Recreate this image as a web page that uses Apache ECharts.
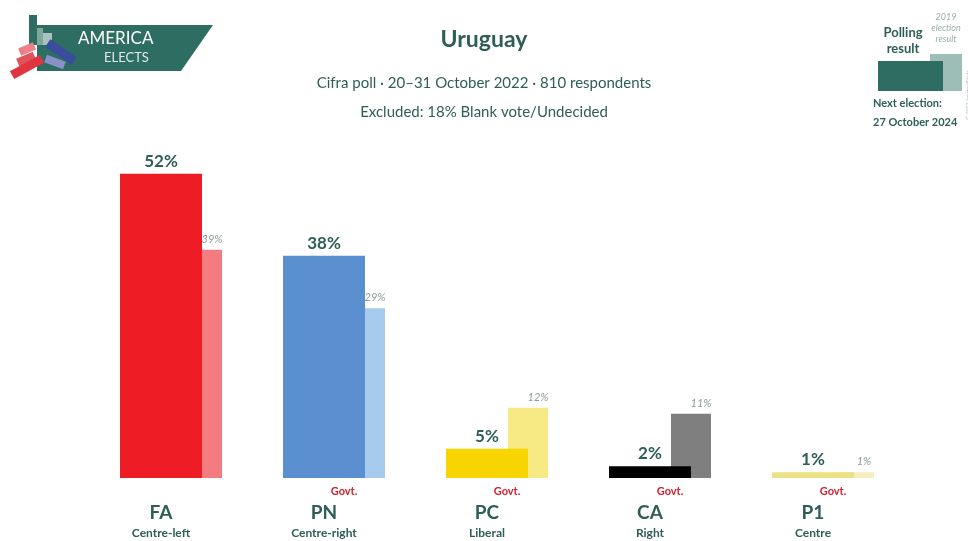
<!DOCTYPE html>
<html>
<head>
<meta charset="utf-8">
<script src="https://cdn.jsdelivr.net/npm/echarts@6/dist/echarts.min.js"></script>
<style>
  html, body { margin: 0; padding: 0; background: #fff; }
  #chart { width: 968px; height: 541px; }
</style>
</head>
<body>
<div id="chart"></div>
<script>
// data
const parties = ['FA', 'PN', 'PC', 'CA', 'P1'];
const leanings = ['Centre-left', 'Centre-right', 'Liberal', 'Right', 'Centre'];
const govt = [false, true, true, true, true];
const polling = [52, 38, 5, 2, 1];
const election2019 = [39, 29, 12, 11, 1];

// colours
const pollColors = ['#ee1c25', '#5a8fd0', '#f8d400', '#000000', '#ece184'];
const prevColors = ['#f27c7f', '#a6cbec', '#f7e983', '#7f7f7f', '#f6efbd'];

const teal = '#2e5e58';
const font = 'Lato';

// logo block, centred on (cx, cy)
let block = (cx, cy, w, h, rot, color) => ({
  type: 'rect', x: cx, y: cy, rotation: rot,
  shape: { x: -w / 2, y: -h / 2, width: w, height: h },
  style: { fill: color }
});

let chart = echarts.init(document.getElementById('chart'));

chart.setOption({
  backgroundColor: '#ffffff',
  animation: false,
  textStyle: { fontFamily: font },
  grid: { left: 89.5, right: 63.5, top: 127, bottom: 63, containLabel: false },
  xAxis: {
    type: 'category',
    data: parties,
    axisLine: { show: false },
    axisTick: { show: false },
    axisLabel: {
      interval: 0,
      margin: 3,
      formatter: (v, i) => {
        let g = govt[i] ? 'Govt.' : ' ';
        return '{g|' + g + '}\n{n|' + v + '}\n{s|' + leanings[i] + '}';
      },
      rich: {
        g: { color: '#d3202f', fontSize: 11, fontWeight: 'bold', lineHeight: 21, padding: [0, 0, 0, 20], fontFamily: font },
        n: { color: teal, fontSize: 19, fontWeight: 'bold', lineHeight: 21, padding: [0, 20, 0, 0], fontFamily: font },
        s: { color: teal, fontSize: 12, fontWeight: 'bold', lineHeight: 21, padding: [0, 20, 0, 0], fontFamily: font }
      }
    }
  },
  yAxis: {
    type: 'value',
    min: 0,
    max: 60,
    show: false,
    splitLine: { show: false }
  },
  series: [
    {
      name: 'Polling result',
      type: 'bar',
      z: 3,
      barWidth: 82,
      barGap: '-24.4%',
      data: polling.map((v, i) => ({ value: v, itemStyle: { color: pollColors[i] } })),
      label: {
        show: true,
        position: 'top',
        distance: 4,
        formatter: '{c}%',
        color: teal,
        fontSize: 17,
        fontWeight: 'bold',
        fontFamily: font
      }
    },
    {
      name: '2019 election result',
      type: 'bar',
      z: 2,
      barWidth: 40,
      barGap: '-24.4%',
      data: election2019.map((v, i) => ({ value: v, itemStyle: { color: prevColors[i] } })),
      label: {
        show: true,
        position: 'top',
        distance: 5,
        offset: [10, 0],
        formatter: '{c}%',
        color: '#8a9e9b',
        fontSize: 11,
        fontStyle: 'italic',
        fontFamily: font
      }
    }
  ],
  graphic: [
    // titles
    { type: 'text', left: 'center', top: 28, style: { text: 'Uruguay', fill: teal, font: 'bold 23px ' + font } },
    { type: 'text', left: 'center', top: 76, style: { text: 'Cifra poll · 20–31 October 2022 · 810 respondents', fill: teal, font: '15px ' + font } },
    { type: 'text', left: 'center', top: 105, style: { text: 'Excluded: 18% Blank vote/Undecided', fill: teal, font: '15px ' + font } },

    // logo
    { type: 'rect', shape: { x: 29, y: 15, width: 8, height: 30 }, style: { fill: '#2e6e62' } },
    { type: 'polygon', shape: { points: [[37, 25], [213, 25], [181, 71], [37, 71]] }, style: { fill: '#2e6e62' } },
    { type: 'rect', shape: { x: 37, y: 28, width: 6, height: 17 }, style: { fill: '#7fa79e' } },
    { type: 'rect', shape: { x: 43, y: 33, width: 9, height: 12 }, style: { fill: '#a9c4be' } },
    block(27, 49, 16, 8, 0.4, '#ec8088'),
    block(26, 59, 18, 8, 0.4, '#e0525c'),
    block(27, 67, 34, 9, 0.5, '#e03440'),
    block(61, 52, 32, 9, -0.6, '#3a4c9e'),
    block(55, 62, 20, 8, -0.35, '#8a90c8'),
    { type: 'text', x: 78, y: 30, style: { text: 'AMERICA', fill: '#ffffff', font: '17px ' + font } },
    { type: 'text', x: 104, y: 51, style: { text: 'ELECTS', fill: '#dfeae7', font: '13px ' + font } },

    // legend, top right
    { type: 'text', x: 903, y: 25, style: { text: 'Polling\nresult', fill: teal, font: 'bold 13px ' + font, align: 'center', lineHeight: 16 } },
    { type: 'text', x: 946, y: 12, style: { text: '2019\nelection\nresult', fill: '#9aaeab', font: 'italic 9px ' + font, align: 'center', lineHeight: 11 } },
    { type: 'rect', shape: { x: 930, y: 54, width: 32, height: 37 }, style: { fill: '#9ebdb6' } },
    { type: 'rect', shape: { x: 878, y: 61, width: 65, height: 30 }, style: { fill: '#2e6e62' } },
    { type: 'text', x: 873, y: 98, style: { text: 'Next election:', fill: teal, font: 'bold 11px ' + font } },
    { type: 'text', x: 873, y: 117, style: { text: '27 October 2024', fill: teal, font: 'bold 11px ' + font } },
    { type: 'text', x: 966, y: 95, rotation: Math.PI / 2, style: { text: '© 2022 AmericaElects', fill: '#b0bcba', font: '5px ' + font, align: 'center' } }
  ]
});
</script>
</body>
</html>
